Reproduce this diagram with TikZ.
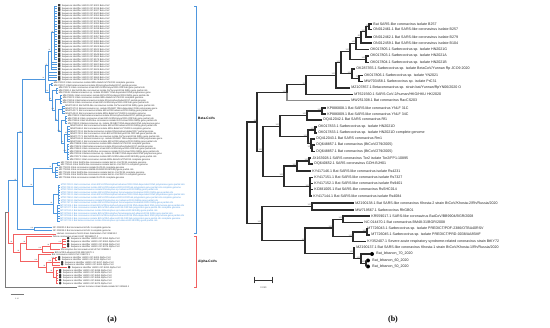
\documentclass[tikz,border=0pt]{standalone}
\usepackage{fontspec}
\setmainfont{Liberation Sans}
\newfontfamily\symf{DejaVu Sans}
\newfontfamily\capf{Liberation Serif}
\usetikzlibrary{positioning}
\definecolor{cblue}{HTML}{4F97DE}
\definecolor{cred}{HTML}{F26161}
\definecolor{cgray}{HTML}{7A7A7A}
\definecolor{treec}{HTML}{2B2B2B}
\tikzset{
  br/.style     = {draw=treec, line width=1.1pt},
  brg/.style    = {draw=black!45, line width=1.8pt},
  bb/.style     = {draw=cblue, line width=0.6pt},
  rb/.style     = {draw=cred, line width=0.6pt},
  gb/.style     = {draw=cgray, line width=0.6pt},
  lfb/.style    = {anchor=west, inner xsep=1.2pt, inner ysep=0pt,
                   font=\fontsize{3.6}{4}\selectfont, text=black!85},
  lfa/.style    = {anchor=west, inner xsep=0.6pt, inner ysep=0pt,
                   font=\fontsize{2.3}{2.5}\selectfont, text=black!80},
  bsb/.style    = {anchor=south east, inner sep=0.3pt,
                   font=\fontsize{2.1}{2}\selectfont, text=black!60},
  bsa/.style    = {anchor=south east, inner sep=0.2pt,
                   font=\fontsize{1.6}{1.6}\selectfont, text=black!70},
  lebdot/.style = {circle, fill=black, inner sep=0pt, minimum size=4pt},
  clade/.style  = {anchor=west, inner sep=0pt, font=\fontsize{3.3}{3.5}\selectfont\bfseries},
  captxt/.style = {inner sep=0pt, font=\capf\fontsize{8}{9}\selectfont\bfseries},
  sc/.style     = {inner sep=0pt, font=\fontsize{2.4}{2.5}\selectfont, text=black!70},
}
\newcommand\sqm{{\symf\fontsize{3}{3}\selectfont ■}\hspace{1.2pt}}
\newcommand\blb{{\symf\fontsize{3.2}{3}\selectfont ●}\hspace{1.2pt}}
\newcommand\betaname[1]{\ifcase#1 Bat coronavirus isolate BtRs-BetaCoV/YN2013 complete genome\or
  Bat betacoronavirus isolate Rhinolophus/Hubei/2017 partial genome\or
  Bat coronavirus strain BtCoV/Rh/Kenya/2015 ORF1ab gene partial cds\or
  Bat SARS-like coronavirus isolate Rs/Yunnan/2016 RdRp gene partial cds\or
  Betacoronavirus sp. isolate RhGB07 RNA-dependent RNA polymerase gene\or
  Bat coronavirus isolate BtCoV/Rh/Lebanon/2019 RdRp gene partial cds\fi}
\newcommand\kname[1]{\ifcase#1 Bat SARS-like coronavirus isolate bat-SL-CoVZC45 complete genome\or
  Bat SARS-like coronavirus isolate bat-SL-CoVZXC21 complete genome\or
  Bat coronavirus isolate RaTG13 complete genome\or
  Bat coronavirus BM48-31/BGR/2008 RdRp gene partial cds\fi}
\newcommand\uname[1]{\ifcase#1 Bat coronavirus strain BtCoV/Rhinolophus/Lebanon/2019 RNA-dependent RNA polymerase gene partial cds\or
  Bat coronavirus isolate BtCoV/Rh/Lebanon/2019 ORF1ab polyprotein gene partial cds complete genome\or
  Bat betacoronavirus isolate Rhinolophus sp./Lebanon/2019 RdRp gene partial cds\or
  Bat coronavirus isolate BtCoV/Rhinolophus ferrumequinum/Lebanon/2019 RdRp gene partial cds\fi}

\begin{document}
\begin{tikzpicture}[x=1pt, y=-1pt]
\useasboundingbox (0,0) rectangle (550,328);

%% ================= (b) Sarbecovirus tree ==============================
%% ---- internal nodes --------------------------------------------------
\coordinate (n1)  at (369,26.75);  \coordinate (n2)  at (366,31.9);
\coordinate (n3)  at (361,37.45);  \coordinate (n5)  at (356,43.5);
\coordinate (n4)  at (366,59.25);  \coordinate (n6)  at (350,51.4);
\coordinate (n7)  at (359,78.5);   \coordinate (n8)  at (352,73.75);
\coordinate (n9)  at (341,62.55);  \coordinate (n10) at (336,75.3);
\coordinate (n11) at (306,84.9);   \coordinate (n12) at (287,92.7);
\coordinate (n14) at (322,111);    \coordinate (n15) at (307,115.5);
\coordinate (n16) at (315,130);    \coordinate (n17) at (312,148.25);
\coordinate (n18) at (311,143.6);  \coordinate (n19) at (308,136.8);
\coordinate (n20) at (280,126.15); \coordinate (n21) at (309,161);
\coordinate (n22) at (297,166);    \coordinate (n23) at (310,186.75);
\coordinate (n24) at (284,176.4);  \coordinate (n25) at (263,151.3);
\coordinate (n13) at (257,122);    \coordinate (n26) at (312,206.5);
\coordinate (n27) at (343,219.25); \coordinate (n28) at (367,232);
\coordinate (n29) at (353,236.75); \coordinate (n30) at (333,228);
\coordinate (n31) at (366,263.5);  \coordinate (n32) at (361,258.75);
\coordinate (n33) at (354,253.1);  \coordinate (n34) at (305,240.55);
\coordinate (n35) at (262,223.5);  \coordinate (R)   at (247,172.75);

%% ---- leaves ----------------------------------------------------------
\foreach \n/\x/\y/\t in {
  1/372/24/{Bat SARS-like coronavirus isolate B257},
  2/372/29.5/{ON012461.1 Bat SARS-like coronavirus isolate B257},
  3/372/37/{ON012462.1 Bat SARS-like coronavirus isolate B279},
  4/372/43/{ON012459.1 Bat SARS-like coronavirus isolate B104},
  5/369/49.5/{OK017805.1 Sarbecovirus sp. isolate HN2021G},
  6/369/56/{OK017803.1 Sarbecovirus sp. isolate HN2021A},
  7/369/62.5/{OK017804.1 Sarbecovirus sp. isolate HN2021B},
  8/355/69/{OK287355.1 Sarbecovirus sp. isolate BetaCoV/Yunnan Rp JCO9 2020},
  9/363/75.5/{OK017806.1 Sarbecovirus sp. isolate YN2021},
  10/363/81.5/{MW703458.1 Sarbecovirus sp. isolate PrC31},
  11/350/88/{MZ107857.1 Betacoronavirus sp. strain bat/Yunnan/RpYN06/2020 O},
  12/353/94.5/{MT621560.1 SARS-CoV-2/human/HKG/HKU HK/2020},
  13/350/100.5/{MW251308.1 Bat coronavirus RacCS203},
  14/326/108/{KP886808.1 Bat SARS-like coronavirus YNLF 31C},
  15/326/114/{KP886809.1 Bat SARS-like coronavirus YNLF 34C},
  16/322/120/{DQ412042.1 Bat SARS coronavirus Rf1},
  17/317/127/{OK017833.1 Sarbecovirus sp. isolate HN2021D},
  18/317/133/{OK017833.1 Sarbecovirus sp. isolate HN2021D complete genome},
  19/315/139/{DQ412043.1 Bat SARS coronavirus Rm1},
  20/315/145/{DQ648857.1 Bat coronavirus (BtCoV/279/2005)},
  21/315/151.5/{DQ648857.1 Bat coronavirus (BtCoV/279/2005)},
  22/311/158/{JX163928.1 SARS coronavirus Tor2 isolate Tor2/FP1-10895},
  23/313/164/{DQ640652.1 SARS coronavirus GDH-BJH01},
  24/311/171/{KY417146.1 Bat SARS-like coronavirus isolate Rs4231},
  25/313/177.5/{KY417151.1 Bat SARS-like coronavirus isolate Rs7327},
  26/313/183.5/{KY417152.1 Bat SARS-like coronavirus isolate Rs9401},
  27/313/189.5/{KC881005.1 Bat SARS-like coronavirus RsSHC014},
  28/312/196/{KY417144.1 Bat SARS-like coronavirus isolate Rs4084},
  29/354/203/{MZ190138.1 Bat SARS-like coronavirus Khosta-2 strain BtCoV/Khosta-2/Rh/Russia/2020},
  30/354/210/{MW719567.1 Sarbecovirus RhGB01},
  31/370/216/{KR559017.1 SARS-like coronavirus BatCoV/BB9904/BGR/2008},
  32/363/222.5/{NC 014470.1 Bat coronavirus BM48-31/BGR/2008},
  33/366/229/{MT726043.1 Sarbecovirus sp. isolate PREDICT/PDF-2386/OTBA40RSV},
  34/370/235/{MT726045.1 Sarbecovirus sp. isolate PREDICT/PRD-0038/AA85MF},
  35/366/241.5/{KY352407.1 Severe acute respiratory syndrome-related coronavirus strain BtKY72},
  36/355/247.5/{MZ190137.1 Bat SARS-like coronavirus Khosta-1 strain BtCoV/Khosta-1/Rh/Russia/2020}}
  {\node[lfb] (b\n) at (\x,\y) {\t};}

\node[lebdot] (d37) at (372,254) {};
\node[lebdot] (d38) at (368,260.5) {};
\node[lebdot] (d39) at (368,266.5) {};
\node[lfb, right=0.8pt of d37] (b37) {Bat\_lebanon\_70\_2020};
\node[lfb, right=0.8pt of d38] (b38) {Bat\_lebanon\_60\_2020};
\node[lfb, right=0.8pt of d39] (b39) {Bat\_lebanon\_50\_2020};

%% ---- branches --------------------------------------------------------
\foreach \p/\c in {n1/b1, n1/b2, n2/n1, n2/b3, n3/n2, n3/b4, n5/n3, n5/b5,
  n4/b6, n4/b7, n6/n5, n6/n4, n7/b9, n7/b10, n8/b8, n8/n7, n9/n6, n9/n8,
  n10/n9, n10/b11, n11/n10, n11/b12, n12/n11, n14/b14, n14/b15, n15/n14,
  n15/b16, n16/b17, n16/b18, n17/b20, n17/b21, n18/b19, n18/n17, n19/n16,
  n19/n18, n20/n15, n20/n19, n21/b22, n21/b23, n22/n21, n22/b24, n23/b25,
  n23/b26, n23/b27, n23/b28, n24/n22, n24/n23, n25/n20, n25/n24, n13/n12,
  n13/n25, n26/b29, n26/b30, n27/b31, n27/b32, n28/b33, n28/b34, n29/n28,
  n29/b35, n30/n27, n30/n29, n31/d38, n31/d39, n32/d37, n32/n31, n33/b36,
  n33/n32, n34/n30, n34/n33, n35/n26, n35/n34, R/n13, R/n35}
  {\draw[br] (\p) |- (\c);}
\draw[brg] (n12) |- (b13);

%% ---- bootstrap values ------------------------------------------------
\foreach \c/\v in {n1/52, n2/100, n3/81, n5/100, n4/100, n6/100, n7/73,
  n8/100, n9/100, n10/100, n11/81, n12/100, n13/58, n14/100, n15/100,
  n16/100, n17/100, n18/100, n19/100, n20/100, n21/100, n22/100, n23/100,
  n24/100, n25/100, n26/100, n27/100, n28/100, n29/100, n30/100, n31/100,
  n32/100, n33/100, n34/96, n35/100}
  {\node[bsb] at ([xshift=-0.4pt]\c) {\v};}

%% ---- scale bar and caption -------------------------------------------
\coordinate (sb1) at (254,280);
\coordinate (sb2) at (273,280);
\draw[|-|, line width=0.7pt, black!80] (sb1) -- (sb2);
\node[sc] (sbL) at (263.5,288) {0.050};
\node[captxt] (capB) at (393,320) {(b)};

%% ================= (a) Corona tree =====================================
%% ---- internal nodes --------------------------------------------------
\coordinate (g1a) at (54,32.8);   \coordinate (g1b) at (51,51.3);
\coordinate (g1c) at (48,65.6);
\coordinate (mA1) at (51,84.3);   \coordinate (mA2) at (56,90.65);
\coordinate (mA3) at (60,99.6);   \coordinate (mA4) at (62,109.8);
\coordinate (mA5) at (65,120);    \coordinate (mA6) at (67.5,134);
\coordinate (mA7) at (67,151.85); \coordinate (mB6) at (64,142.9);
\coordinate (mB5) at (61,131.5);  \coordinate (mB4) at (58,120.6);
\coordinate (mB3) at (55,110.1);  \coordinate (mB2) at (52,100.4);
\coordinate (mB1) at (49,92.3);   \coordinate (B1)  at (45,79);
\coordinate (kA1) at (57,163.8);  \coordinate (kA2) at (55,172.7);
\coordinate (kB)  at (52,168.2);
\coordinate (uA1) at (58,194.1);  \coordinate (uA2) at (57,213.6);
\coordinate (uB)  at (53,203.9);
\coordinate (B2)  at (33,186);    \coordinate (B22) at (22,132.5);
\coordinate (hA)  at (34,229);    \coordinate (BETA) at (17,180.75);
\coordinate (rA1) at (62,243.1);  \coordinate (rA2) at (50,246.35);
\coordinate (rA3) at (42,249.3);  \coordinate (rA4) at (26,242.95);
\coordinate (rB1) at (55,258.7);  \coordinate (rB2) at (52,261.95);
\coordinate (rB3) at (56,276.9);  \coordinate (rB4) at (53,272.35);
\coordinate (rB5) at (46,267.15); \coordinate (rB6) at (38,261);
\coordinate (rC)  at (20,252);    \coordinate (ALPHA) at (13,243);
\coordinate (ING) at (8,211.9);   \coordinate (ROOT) at (5,249.5);

%% ---- beta: sampled sequences (squares) -------------------------------
\foreach \i in {0,...,29}{
  \pgfmathsetmacro\yy{6+2.55*\i}
  \pgfmathtruncatemacro\nn{8301+13*\i}
  \node[lfa] (g\i) at (57,\yy) {\sqm Sequence identifier LB020-217-\nn\ Beta CoV};
}
\foreach \i in {0,...,21} {\draw[bb] (g1a) |- (g\i);}
\foreach \i in {22,...,25}{\draw[bb] (g1b) |- (g\i);}
\foreach \i in {26,...,29}{\draw[bb] (g1c) |- (g\i);}

%% ---- beta: reference sequences ---------------------------------------
\foreach \i/\p/\t in {0/mA1/53, 1/mA1/53, 2/mA2/58, 3/mA2/58, 4/mA2/58,
  5/mA3/62, 6/mA3/62, 7/mA3/62, 8/mA3/62, 9/mA4/64.5, 10/mA4/64.5,
  11/mA4/64.5, 12/mA4/64.5, 13/mA5/67, 14/mA5/67, 15/mA5/67, 16/mA5/67,
  17/mA6/69.5, 18/mA6/69.5, 19/mA6/69.5, 20/mA6/69.5, 21/mA6/69.5,
  22/mA6/69.5, 23/mA6/69.5, 24/mA7/69, 25/mA7/69, 26/mA7/69, 27/mA7/69,
  28/mA7/69, 29/mA7/69, 30/mA7/69}{
  \pgfmathsetmacro\yy{83+2.55*\i}
  \pgfmathtruncatemacro\acc{1000+37*\i}
  \pgfmathtruncatemacro\k{mod(\i,6)}
  \node[lfa] (m\i) at (\t,\yy) {MN47\acc.1 \betaname{\k}};
  \draw[bb] (\p) |- (m\i);
}
\foreach \i/\p/\t in {0/kA1/60, 1/kA1/60, 2/kA2/58, 3/kA2/58, 4/kA2/58,
  5/kA2/58, 6/kA2/58}{
  \pgfmathsetmacro\yy{162.5+2.55*\i}
  \pgfmathtruncatemacro\acc{2100+61*\i}
  \pgfmathtruncatemacro\k{mod(\i,4)}
  \node[lfa] (k\i) at (\t,\yy) {MG77\acc.1 \kname{\k}};
  \draw[bb] (\p) |- (k\i);
}
\foreach \i/\p/\t in {0/uA1/60, 1/uA1/60, 2/uA1/60, 3/uA1/60, 4/uA1/60,
  5/uA1/60, 6/uA1/60, 7/uA1/60, 8/uA2/59.5, 9/uA2/59.5, 10/uA2/59.5,
  11/uA2/59.5, 12/uA2/59.5, 13/uA2/59.5, 14/uA2/59.5}{
  \pgfmathsetmacro\yy{185+2.6*\i}
  \pgfmathtruncatemacro\acc{7000+53*\i}
  \pgfmathtruncatemacro\k{mod(\i,4)}
  \node[lfa, text=cblue] (u\i) at (\t,\yy) {MT21\acc.1 \uname{\k}};
  \draw[bb] (\p) |- (u\i);
}
\node[lfa] (h0) at (52,227.5) {NC 009020.1 Bat coronavirus HKU5-1 complete genome};
\node[lfa] (h1) at (52,230.5) {NC 009019.1 Bat coronavirus HKU4-1 complete genome};

\foreach \p/\c in {g1b/g1a, g1c/g1b, B1/g1c, B1/mB1, mB1/mA1, mB1/mB2,
  mB2/mA2, mB2/mB3, mB3/mA3, mB3/mB4, mB4/mA4, mB4/mB5, mB5/mA5, mB5/mB6,
  mB6/mA6, mB6/mA7, kB/kA1, kB/kA2, uB/uA1, uB/uA2, B2/kB, B2/uB, B22/B1,
  B22/B2, hA/h0, hA/h1, BETA/B22, BETA/hA, ING/BETA}
  {\draw[bb] (\p) |- (\c);}

%% ---- alpha -----------------------------------------------------------
\foreach \i/\p/\t in {2/rA1/66, 3/rA1/66, 4/rA1/66, 5/rA1/66, 9/rB1/57,
  10/rB1/57, 11/rB2/60, 12/rB2/60, 13/rB4/67, 14/rB3/58, 15/rB3/58,
  16/rB3/58, 17/rB3/58, 18/rB3/58, 19/rB3/58}{
  \pgfmathsetmacro\yy{234+2.6*\i}
  \pgfmathtruncatemacro\nn{8340+7*\i}
  \node[lfa] (a\i) at (\t,\yy) {\blb Sequence identifier LB020-217-\nn\ Alpha CoV};
  \draw[rb] (\p) |- (a\i);
}
\node[lfa] (a0) at (56,234)   {Human coronavirus NL63 strain Amsterdam I NC 005831.2};
\node[lfa] (a1) at (52,236.6) {Feline coronavirus strain UU47 MN165107.1};
\node[lfa] (a6) at (60,249.6) {Rhinolophus bat coronavirus HKU2 NC 009988.1};
\node[lfa] (a7) at (54,252.2) {BtCoV/Rh/Lebanon/2019 MK211370.1};
\node[lfa] (a8) at (51,254.8) {Bat coronavirus HKU10 NC 018871.1};

\foreach \p/\c in {rA2/rA1, rA2/a6, rA3/rA2, rA3/a7, rA4/a1, rA4/rA3,
  rB2/rB1, rB4/rB3, rB5/rB2, rB5/rB4, rB6/a8, rB6/rB5, rC/rA4, rC/rB6,
  ALPHA/a0, ALPHA/rC, ING/ALPHA}
  {\draw[rb] (\p) |- (\c);}

%% ---- root and outgroup -----------------------------------------------
\node[lfa] (out) at (77,287) {Human torovirus strain Breda isolate NC 040663.1};
\draw[gb] (ROOT) |- (ING);
\draw[gb] (ROOT) |- (out);

\foreach \c/\v in {g1a/99, g1b/99, g1c/75, B1/96, mB1/100, mB2/99, mB3/100,
  mB4/78, mB5/100, mB6/99, mA6/99, mA7/100, kB/99, uB/99, B2/96, B22/98,
  hA/100, BETA/95, rA1/100, rA2/99, rA3/100, rA4/98, rB1/100, rB2/100,
  rB4/99, rB5/99, rB6/100, rC/98, ALPHA/99}
  {\node[bsa] at ([xshift=-0.3pt]\c) {\v};}

%% ---- clade brackets --------------------------------------------------
\coordinate (bkB1) at (196,6);   \coordinate (bkB2) at (196,233);
\coordinate (bkA1) at (196,236); \coordinate (bkA2) at (196,287);
\draw[bb, line width=0.7pt] ([xshift=-2pt]bkB1) -- (bkB1) -- (bkB2) -- ([xshift=-2pt]bkB2);
\draw[rb, line width=0.7pt] ([xshift=-2pt]bkA1) -- (bkA1) -- (bkA2) -- ([xshift=-2pt]bkA2);
\node[clade] (betaL)  at (198,118) {Beta-CoVs};
\node[clade] (alphaL) at (198,262) {Alpha-CoVs};

%% ---- scale bar and caption -------------------------------------------
\coordinate (sa1) at (10.5,294);
\coordinate (sa2) at (24,294);
\draw[gb, line width=0.4pt] (sa1) -- (sa2);
\node[sc, font=\fontsize{1.8}{2}\selectfont] (saL) at (17,299) {0.10};
\node[captxt] (capA) at (112,320) {(a)};
\end{tikzpicture}
\end{document}
